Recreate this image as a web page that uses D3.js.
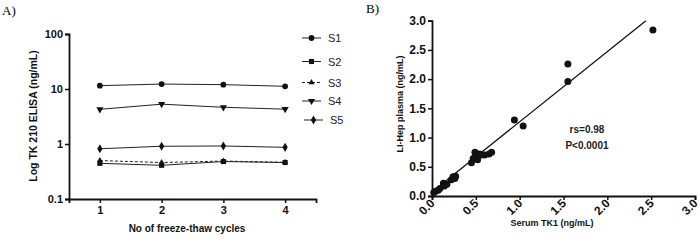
<!DOCTYPE html>
<html><head><meta charset="utf-8">
<script src="https://cdn.jsdelivr.net/npm/d3@7"></script>
<style>body{margin:0;background:#fff}svg{display:block}</style>
</head><body>
<script>
// Panel A data
const cycles = [1, 2, 3, 4];
const seriesNames = ["S1", "S2", "S3", "S4", "S5"];
const S1 = [11.5, 12.3, 12.0, 11.2];
const S2 = [0.445, 0.41, 0.48, 0.46];
const S3 = [0.50, 0.46, 0.49, 0.465];
const S4 = [4.27, 5.3, 4.65, 4.3];
const S5 = [0.82, 0.91, 0.92, 0.87];
const yTicksA = [0.1, 1, 10, 100];
const xTicksA = [1, 2, 3, 4];
// Panel B data
const serumTK1 = [0.02,0.04,0.07,0.09,0.13,0.14,0.17,0.22,0.24,0.26,0.27,0.45,0.47,0.49,0.50,0.52,0.54,0.56,0.60,0.65,0.68,0.94,1.04,1.55,1.55,2.52];
const liHep    = [0.06,0.08,0.10,0.13,0.22,0.17,0.20,0.28,0.33,0.30,0.34,0.57,0.64,0.75,0.67,0.62,0.72,0.70,0.70,0.72,0.75,1.30,1.20,2.26,1.96,2.84];
const fitLine = [[0, 0.07], [2.44, 3.0]];
const ticksB = [0, 0.5, 1.0, 1.5, 2.0, 2.5, 3.0];

const svg = d3.select("body").append("svg").attr("width", 700).attr("height", 250)
  .style("font-family", "'Liberation Sans', Arial, sans-serif");

// ---------- Panel A ----------
const xA = d3.scaleLinear().domain([0.5, 4.5]).range([69, 316]);
const yA = d3.scaleLog().domain([0.1, 100]).range([199, 34]);

svg.append("text").attr("x", 2).attr("y", 15).text("A)")
  .style("font-family", "'Liberation Serif', 'Times New Roman', serif").style("font-size", "13px");

const gyA = svg.append("g").attr("transform", "translate(69,0)")
  .call(d3.axisLeft(yA).tickValues(yTicksA).tickFormat(d3.format("~g")).tickSizeOuter(0).tickSize(4).tickPadding(2));
const gxA = svg.append("g").attr("transform", "translate(0,199)")
  .call(d3.axisBottom(xA).tickValues(xTicksA).tickFormat(d3.format("d")).tickSizeOuter(0).tickSize(4).tickPadding(3));
[gyA, gxA].forEach(g => {
  g.select(".domain").attr("stroke", "#111").attr("stroke-width", 1.8);
  g.selectAll(".tick line").attr("stroke", "#111").attr("stroke-width", 1.5);
  g.selectAll(".tick text").attr("fill", "#111").style("font-size", "11px").style("font-weight", "bold").style("font-family", "'Liberation Sans', Arial, sans-serif");
});

svg.append("text").attr("transform", "translate(37,116) rotate(-90)").attr("text-anchor", "middle")
  .style("font-size", "10.5px").style("font-weight", "bold").attr("fill", "#111").text("Log TK 210 ELISA (ng/mL)");
svg.append("text").attr("x", 187).attr("y", 232).attr("text-anchor", "middle")
  .style("font-size", "10px").style("font-weight", "bold").attr("fill", "#111").text("No of freeze-thaw cycles");

const seriesData = [S1, S2, S3, S4, S5];
const symbolTypes = [d3.symbolCircle, d3.symbolSquare, d3.symbolTriangle, d3.symbolTriangle, d3.symbolDiamond];
const symbolSizes = [26, 26, 16, 22, 24];
const dashes = [null, null, "3,2", null, null];
const line = d3.line().x((d, i) => xA(cycles[i])).y(d => yA(d));

function drawSym(g, k, x, y) {
  g.append("path").attr("d", d3.symbol().type(symbolTypes[k]).size(symbolSizes[k])())
    .attr("transform", `translate(${x},${y})` + (k === 3 ? " rotate(180)" : ""))
    .attr("fill", "#111");
}
seriesData.forEach((vals, k) => {
  svg.append("path").datum(vals).attr("d", line).attr("fill", "none").attr("stroke", "#222")
    .attr("stroke-width", 1).attr("stroke-dasharray", dashes[k]);
  vals.forEach((v, i) => drawSym(svg, k, xA(cycles[i]), yA(v)));
});

// legend
const legY = [38, 61.5, 82.5, 101, 120];
seriesNames.forEach((n, k) => {
  const off = k === 4 ? 2 : 0;
  svg.append("line").attr("x1", 302 + off).attr("x2", 321 + off).attr("y1", legY[k]).attr("y2", legY[k])
    .attr("stroke", "#222").attr("stroke-width", 1).attr("stroke-dasharray", dashes[k]);
  drawSym(svg, k, 311.5 + off, legY[k]);
  svg.append("text").attr("x", 328 + off).attr("y", legY[k] + 4).style("font-size", "11px").attr("fill", "#222").text(n);
});

// ---------- Panel B ----------
const xB = d3.scaleLinear().domain([0, 3]).range([432, 695]);
const yB = d3.scaleLinear().domain([0, 3]).range([196, 20.7]);

svg.append("text").attr("x", 366).attr("y", 13).text("B)")
  .style("font-family", "'Liberation Serif', 'Times New Roman', serif").style("font-size", "13px");

const gyB = svg.append("g").attr("transform", "translate(432,0)")
  .call(d3.axisLeft(yB).tickValues(ticksB).tickFormat(d3.format(".1f")).tickSizeOuter(0).tickSize(4).tickPadding(2));
const gxB = svg.append("g").attr("transform", "translate(0,196)")
  .call(d3.axisBottom(xB).tickValues(ticksB).tickFormat(d3.format(".1f")).tickSizeOuter(0).tickSize(4));
[gyB, gxB].forEach(g => {
  g.select(".domain").attr("stroke", "#111").attr("stroke-width", 1.8);
  g.selectAll(".tick line").attr("stroke", "#111").attr("stroke-width", 1.5);
  g.selectAll(".tick text").attr("fill", "#111").style("font-size", "12px").style("font-weight", "bold").style("font-family", "'Liberation Sans', Arial, sans-serif");
});
gxB.selectAll(".tick text").attr("text-anchor", "end").attr("dy", null).attr("y", 0)
  .attr("transform", "translate(3,8) rotate(-45)");

svg.append("text").attr("transform", "translate(403,104) rotate(-90)").attr("text-anchor", "middle")
  .style("font-size", "9px").style("font-weight", "bold").attr("fill", "#111").text("LI-Hep plasma (ng/mL)");
svg.append("text").attr("x", 552).attr("y", 226).attr("text-anchor", "middle")
  .style("font-size", "9px").style("font-weight", "bold").attr("fill", "#111").text("Serum TK1 (ng/mL)");

svg.append("path").datum(fitLine).attr("d", d3.line().x(d => xB(d[0])).y(d => yB(d[1])))
  .attr("fill", "none").attr("stroke", "#111").attr("stroke-width", 1.3);

svg.selectAll("circle.pt").data(serumTK1).enter().append("circle").attr("class", "pt")
  .attr("cx", d => xB(d)).attr("cy", (d, i) => yB(liHep[i])).attr("r", 3.5).attr("fill", "#111");

svg.append("text").attr("x", 587).attr("y", 133).attr("text-anchor", "middle")
  .style("font-size", "10px").style("font-weight", "bold").attr("fill", "#222").text("rs=0.98");
svg.append("text").attr("x", 587).attr("y", 149).attr("text-anchor", "middle")
  .style("font-size", "10px").style("font-weight", "bold").attr("fill", "#222").text("P<0.0001");
</script>
</body></html>
